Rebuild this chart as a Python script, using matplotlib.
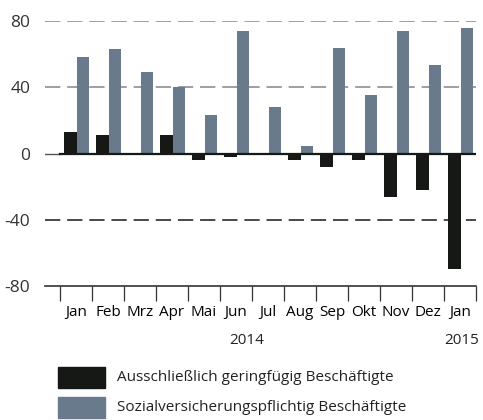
import numpy as np
import matplotlib; matplotlib.use("Agg")
import matplotlib.pyplot as plt
from matplotlib.patches import Rectangle
from matplotlib.transforms import blended_transform_factory

INK = "#161816"; SLATE = "#687a8b"; GRIDC = "#858585"
plt.rcParams.update({"font.family": "Open Sans", "font.size": 11, "text.color": "#222222"})

months = ["Jan", "Feb", "Mrz", "Apr", "Mai", "Jun", "Jul", "Aug", "Sep", "Okt", "Nov", "Dez", "Jan"]
gering = [12.8, 11, 0.5, 11, -4.2, -2, -0.5, -4, -8, -4, -26, -22, -69.5]
svpfl = [58, 62.8, 49.5, 40, 23.5, 73.7, 27.8, 4.8, 64, 35.6, 73.7, 53.7, 75.5]
yticks = [80, 40, 0, -40, -80]
labels = ["Ausschließlich geringfügig Beschäftigte", "Sozialversicherungspflichtig Beschäftigte"]

W, H = 483, 420
fig = plt.figure(figsize=(W / 100, H / 100), dpi=100)
ax = fig.add_axes([45 / W, 1 - 286 / H, 431 / W, 265 / H])
x = np.arange(len(months))
ax.bar(x + 0.125, gering, width=0.41, align="edge", color=INK, zorder=3)
ax.bar(x + 0.53, svpfl, width=0.38, align="edge", color=SLATE, zorder=3)

xmin, xmax = -0.47, 13.0
for v in yticks:
    if v == -80:
        ax.plot([xmin, xmax], [v, v], color="#333333", lw=1.2, clip_on=False, zorder=2)
    elif v == 0:
        ax.plot([xmin, 0], [v, v], color="#555555", lw=1.0, zorder=2)
        ax.plot([0, xmax], [v, v], color=INK, lw=1.6, zorder=4)
    else:
        c = GRIDC if v > 0 else INK
        ax.plot([xmin, xmax], [v, v], color=c, lw=1.1, dashes=(10, 4.5), zorder=1)

ax.set_xlim(xmin, xmax); ax.set_ylim(-80, 80)
for s in ax.spines.values(): s.set_visible(False)
ax.set_yticks(yticks); ax.set_yticklabels([str(v) for v in yticks])
ax.tick_params(axis="y", length=0, pad=10.5, labelsize=12.5, labelcolor="#333333")
ax.set_xticks(np.arange(len(months) + 1))
ax.set_xticklabels([])
ax.tick_params(axis="x", which="major", length=10.5, width=0.9, color="#333333", direction="out")
ax.set_xticks(x + 0.5, minor=True)
ax.set_xticklabels(months, minor=True)
ax.tick_params(axis="x", which="minor", length=0, pad=14, labelsize=11)

tr = blended_transform_factory(ax.transData, fig.transFigure)
ax.text(5.84, 1 - 340 / H, "2014", transform=tr, ha="center", va="center", fontsize=11)
ax.text(12.55, 1 - 340 / H, "2015", transform=tr, ha="center", va="center", fontsize=11)

for i, (lab, col) in enumerate(zip(labels, [INK, SLATE])):
    y0 = 367 + i * 30
    fig.patches.append(Rectangle((58 / W, 1 - (y0 + 21) / H), 47 / W, 21 / H,
                                 transform=fig.transFigure, color=col))
    fig.text(117 / W, 1 - (y0 + 10.5) / H, lab, ha="left", va="center", fontsize=11)

fig.savefig("out.png", dpi=100, facecolor="white")
